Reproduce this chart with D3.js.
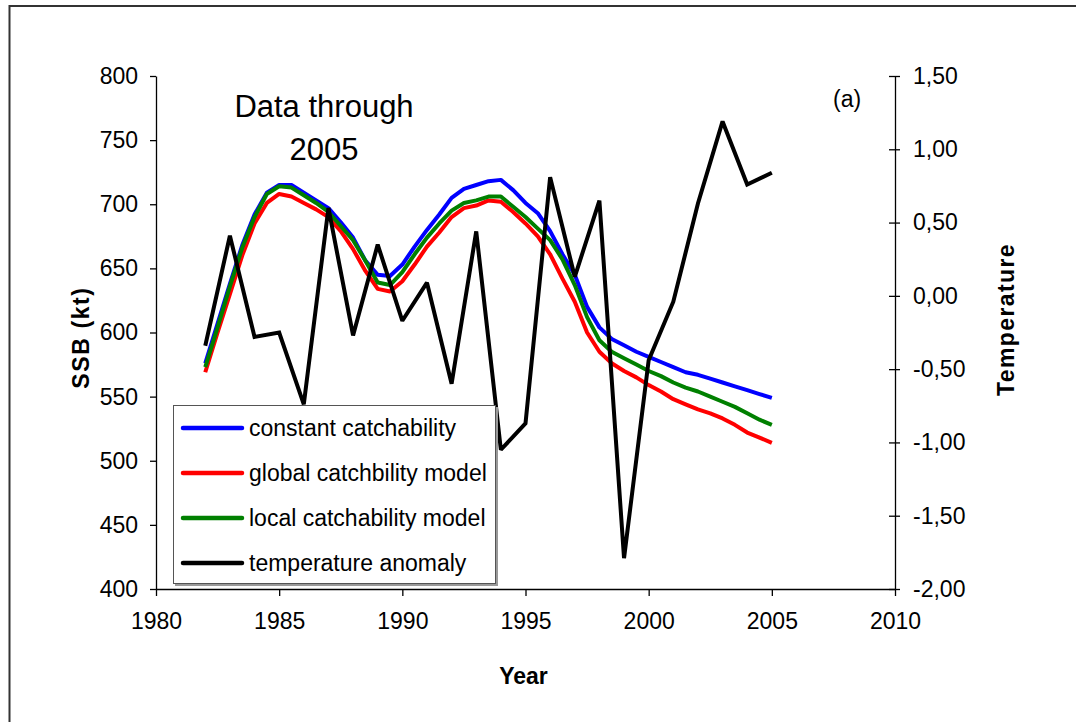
<!DOCTYPE html>
<html>
<head>
<meta charset="utf-8">
<script src="https://cdn.jsdelivr.net/npm/d3@7"></script>
<style>
  html, body { margin: 0; padding: 0; background: #fff; }
  svg { display: block; font-family: "Liberation Sans", Arial, sans-serif; }
</style>
</head>
<body>
<svg id="chart" width="1076" height="722"></svg>
<script>
// Spawning stock biomass estimates (kt), half-yearly, 1982–2005
const ssbYears = d3.range(0, 47).map(i => 1982 + i * 0.5);
const constantCatchability = [
  576, 607, 638, 668, 692, 709, 715, 715, 709, 703, 697, 686, 674, 656, 645, 644,
  653, 667, 680, 692, 705, 712, 715, 718, 719, 711, 701, 693, 679, 661, 645, 620,
  604, 595, 590, 585, 581, 577, 573, 569, 567, 564, 561, 558, 555, 552, 549
];
const globalCatchability = [
  569, 600, 630, 660, 685, 701, 708, 706, 701, 696, 690, 679, 665, 648, 634, 632,
  640, 653, 667, 678, 690, 697, 699, 703, 702, 694, 685, 675, 661, 642, 624, 600,
  585, 576, 570, 565, 559, 554, 548, 544, 540, 537, 533, 528, 522, 518, 514
];
const localCatchability = [
  573, 604, 636, 666, 690, 708, 714, 713, 707, 701, 694, 683, 672, 656, 639, 637,
  647, 661, 674, 685, 695, 701, 703, 706, 706, 698, 690, 681, 672, 657, 637, 612,
  594, 585, 580, 575, 570, 566, 561, 557, 554, 550, 546, 542, 537, 532, 528
];

// Annual temperature anomaly
const tempYears = d3.range(1982, 2006);
const tempAnomaly = [
  -0.34, 0.41, -0.28, -0.25, -0.74, 0.60, -0.27, 0.35, -0.17, 0.09, -0.60, 0.44,
  -1.05, -0.87, 0.81, 0.13, 0.65, -1.79, -0.44, -0.04, 0.63, 1.19, 0.76, 0.84
];

// Axis ticks
const xTicks = [1980, 1985, 1990, 1995, 2000, 2005, 2010];
const ssbTicks = [400, 450, 500, 550, 600, 650, 700, 750, 800];
const tempTicks = [-2, -1.5, -1, -0.5, 0, 0.5, 1, 1.5];

const seriesNames = ["constant catchability", "global catchbility model", "local catchability model", "temperature anomaly"];
const seriesColors = ["#0000ff", "#ff0000", "#008000", "#000000"];

const svg = d3.select("#chart");
const W = 1076, H = 722;
const plotLeft = 156, plotRight = 895, plotTop = 76, plotBottom = 589;

// outer frame
svg.append("rect")
  .attr("x", 9.5).attr("y", 6).attr("width", W + 10).attr("height", H + 10)
  .attr("fill", "#fff").attr("stroke", "#333").attr("stroke-width", 2);

const x = d3.scaleLinear().domain([1980, 2010]).range([plotLeft, plotRight]);
const yL = d3.scaleLinear().domain([400, 800]).range([plotBottom, plotTop]);
const yR = d3.scaleLinear().domain([-2, 1.5]).range([plotBottom, plotTop]);

const fmtComma = d => d3.format(".2f")(d).replace(".", ",").replace("−", "-");

// axes
const xAxis = svg.append("g").attr("transform", `translate(0,${plotBottom})`)
  .call(d3.axisBottom(x).tickValues(xTicks).tickFormat(d3.format("d")).tickSizeInner(7).tickSizeOuter(0).tickPadding(13));
const yAxisL = svg.append("g").attr("transform", `translate(${plotLeft},0)`)
  .call(d3.axisLeft(yL).tickValues(ssbTicks).tickSizeInner(6).tickSizeOuter(0).tickPadding(12));
const yAxisR = svg.append("g").attr("transform", `translate(${plotRight},0)`)
  .call(d3.axisRight(yR).tickValues(tempTicks).tickFormat(fmtComma).tickSizeInner(5).tickSizeOuter(0).tickPadding(13));
yAxisR.selectAll(".tick line").attr("x1", -6);

[xAxis, yAxisL, yAxisR].forEach(g => {
  g.select(".domain").attr("stroke", "#000").attr("stroke-width", 1.3);
  g.selectAll(".tick line").attr("stroke", "#000").attr("stroke-width", 1.3);
  g.selectAll(".tick text").attr("fill", "#000")
    .style("font-size", "23px").style("font-family", "'Liberation Sans', Arial, sans-serif");
});
xAxis.selectAll(".tick text").attr("dy", "0.85em");

// axis titles
svg.append("text").attr("x", x(1995) - 2).attr("y", 684).attr("text-anchor", "middle")
  .style("font-size", "23px").style("font-weight", "bold").text("Year");
svg.append("text").attr("transform", `translate(89,${(plotTop + plotBottom) / 2 + 5}) rotate(-90)`)
  .attr("text-anchor", "middle").style("font-size", "23px").style("font-weight", "bold")
  .style("letter-spacing", "1.6px").text("SSB (kt)");
svg.append("text").attr("transform", `translate(1014,${(plotTop + plotBottom) / 2 - 13}) rotate(-90)`)
  .attr("text-anchor", "middle").style("font-size", "23px").style("font-weight", "bold")
  .style("letter-spacing", "1.4px").text("Temperature");

// annotations
svg.append("text").attr("x", 324).attr("y", 117).attr("text-anchor", "middle")
  .style("font-size", "31px").text("Data through");
svg.append("text").attr("x", 324).attr("y", 160).attr("text-anchor", "middle")
  .style("font-size", "31px").text("2005");
svg.append("text").attr("x", 833).attr("y", 107)
  .style("font-size", "23px").text("(a)");

// series lines
const ssbSeries = [constantCatchability, globalCatchability, localCatchability];
const ssbLine = d3.line().x((d, i) => x(ssbYears[i])).y(d => yL(d));
ssbSeries.forEach((vals, k) => {
  svg.append("path").datum(vals)
    .attr("fill", "none").attr("stroke", seriesColors[k]).attr("stroke-width", 4)
    .attr("stroke-linejoin", "round").attr("d", ssbLine);
});
const tempLine = d3.line().x((d, i) => x(tempYears[i])).y(d => yR(d));
svg.append("path").datum(tempAnomaly)
  .attr("fill", "none").attr("stroke", "#000").attr("stroke-width", 4)
  .attr("stroke-linejoin", "miter").attr("stroke-miterlimit", 2).attr("d", tempLine);

// legend
const lg = svg.append("g").attr("transform", "translate(173,405)");
lg.append("rect").attr("x", 2).attr("y", 2).attr("width", 323).attr("height", 179).attr("fill", "#999");
lg.append("rect").attr("x", 0.5).attr("y", 0.5).attr("width", 322).attr("height", 178)
  .attr("fill", "#fff").attr("stroke", "#555").attr("stroke-width", 1);
seriesNames.forEach((name, i) => {
  const yy = 23 + i * 45;
  lg.append("line").attr("x1", 10).attr("x2", 69).attr("y1", yy).attr("y2", yy)
    .attr("stroke", seriesColors[i]).attr("stroke-width", 4.5).attr("stroke-linecap", "round");
  lg.append("text").attr("x", 76).attr("y", yy).attr("dy", "0.35em")
    .style("font-size", "23px").text(name);
});
</script>
</body>
</html>
